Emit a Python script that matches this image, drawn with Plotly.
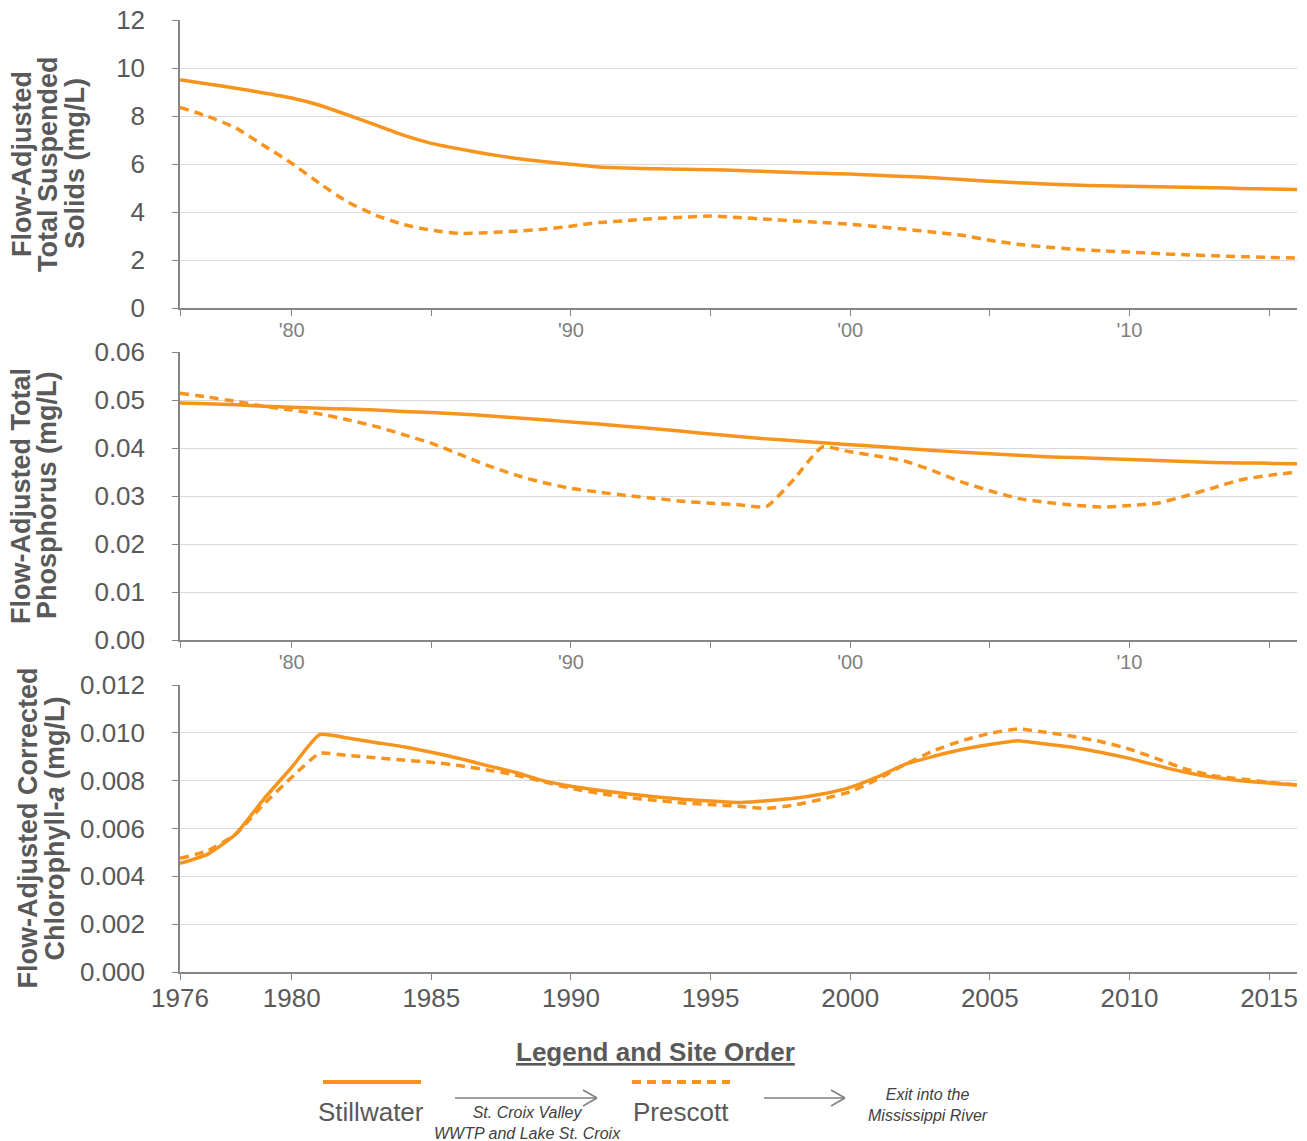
import plotly.graph_objects as go

# ---------------- data ----------------
years = list(range(1976, 2017))

tss_stillwater = [9.51, 9.33, 9.16, 8.96, 8.75, 8.45, 8.05, 7.63, 7.20, 6.86,
                  6.63, 6.42, 6.24, 6.10, 5.99, 5.87, 5.83, 5.80, 5.78, 5.76,
                  5.73, 5.69, 5.65, 5.61, 5.58, 5.53, 5.48, 5.43, 5.35, 5.28,
                  5.22, 5.17, 5.12, 5.09, 5.07, 5.05, 5.03, 5.01, 4.98, 4.96, 4.94]
tss_prescott = [8.36, 7.98, 7.50, 6.77, 6.03, 5.19, 4.42, 3.87, 3.48, 3.24,
                3.11, 3.14, 3.20, 3.28, 3.41, 3.56, 3.64, 3.73, 3.78, 3.83,
                3.77, 3.70, 3.63, 3.56, 3.49, 3.39, 3.28, 3.16, 3.03, 2.82,
                2.66, 2.54, 2.45, 2.38, 2.33, 2.27, 2.22, 2.18, 2.14, 2.11, 2.08]

tp_stillwater = [0.0494, 0.0492, 0.0490, 0.0487, 0.0485, 0.0483, 0.0481, 0.0479, 0.0476, 0.0474,
                 0.0471, 0.0467, 0.0463, 0.0459, 0.0454, 0.0450, 0.0445, 0.0440, 0.0435, 0.0429,
                 0.0424, 0.0419, 0.0415, 0.0411, 0.0407, 0.0403, 0.0399, 0.0395, 0.0391, 0.0388,
                 0.0385, 0.0382, 0.0380, 0.0378, 0.0376, 0.0374, 0.0372, 0.0370, 0.0369, 0.0368, 0.0367]
tp_prescott = [0.0514, 0.0506, 0.0497, 0.0487, 0.0479, 0.0471, 0.0459, 0.0445, 0.0428, 0.0410,
               0.0387, 0.0364, 0.0344, 0.0328, 0.0316, 0.0308, 0.0301, 0.0295, 0.0289, 0.0285,
               0.0282, 0.0278, 0.0336, 0.0402, 0.0392, 0.0383, 0.0372, 0.0352, 0.0329, 0.0311,
               0.0295, 0.0287, 0.0281, 0.0277, 0.0280, 0.0285, 0.0300, 0.0317, 0.0334, 0.0343, 0.0350]

chl_stillwater = [0.00454, 0.00493, 0.00577, 0.00723, 0.00856, 0.00993, 0.00978, 0.00960, 0.00942, 0.00919,
                  0.00893, 0.00863, 0.00835, 0.00800, 0.00777, 0.00760, 0.00745, 0.00733, 0.00722, 0.00715,
                  0.00709, 0.00716, 0.00726, 0.00744, 0.00772, 0.00817, 0.00870, 0.00902, 0.00930, 0.00951,
                  0.00967, 0.00953, 0.00939, 0.00918, 0.00893, 0.00863, 0.00835, 0.00814, 0.00800, 0.00790, 0.00782]
chl_prescott = [0.00475, 0.00507, 0.00577, 0.00702, 0.00814, 0.00914, 0.00905, 0.00896, 0.00886, 0.00877,
                0.00863, 0.00845, 0.00824, 0.00796, 0.00768, 0.00747, 0.00730, 0.00718, 0.00707, 0.00700,
                0.00693, 0.00684, 0.00698, 0.00723, 0.00754, 0.00807, 0.00870, 0.00926, 0.00967, 0.00998,
                0.01016, 0.01002, 0.00985, 0.00963, 0.00932, 0.00891, 0.00849, 0.00821, 0.00807, 0.00793, 0.00782]

top_tickvals = [1976, 1980, 1985, 1990, 1995, 2000, 2005, 2010, 2015]
top_ticktext = ["", "'80", "", "'90", "", "'00", "", "'10", ""]
bottom_tickvals = [1976, 1980, 1985, 1990, 1995, 2000, 2005, 2010, 2015]
bottom_ticktext = ["1976", "1980", "1985", "1990", "1995", "2000", "2005", "2010", "2015"]

panel_titles = [
    ["Flow-Adjusted", "Total Suspended", "Solids (mg/L)"],
    ["Flow-Adjusted Total", "Phosphorus (mg/L)"],
    ["Flow-Adjusted Corrected", "Chlorophyll-<i>a</i> (mg/L)"],
]

# ---------------- styling ----------------
W, H = 1307, 1141
ORANGE = "#F7941D"
AXIS = "#868686"
GRID = "#d9d9d9"
TXT = "#595959"
FONT = "Liberation Sans, Arial, sans-serif"


def fx(x):
    return x / W


def fy(y):
    return 1 - y / H


fig = go.Figure()

series = [
    (tss_stillwater, tss_prescott, "x", "y"),
    (tp_stillwater, tp_prescott, "x2", "y2"),
    (chl_stillwater, chl_prescott, "x3", "y3"),
]
for s_vals, p_vals, xa, ya in series:
    fig.add_trace(go.Scatter(x=years, y=s_vals, mode="lines", xaxis=xa, yaxis=ya,
                             line=dict(color=ORANGE, width=3.5, shape="spline", smoothing=0.5),
                             name="Stillwater", showlegend=False))
    fig.add_trace(go.Scatter(x=years, y=p_vals, mode="lines", xaxis=xa, yaxis=ya,
                             line=dict(color=ORANGE, width=3.5, dash="9px,6px",
                                       shape="spline", smoothing=0.5),
                             name="Prescott", showlegend=False))

xdom = [fx(180), fx(1297)]
panels = [(20, 308), (352, 640), (685, 972)]

common_x = dict(range=[1976, 2016], showgrid=False, zeroline=False, showline=True,
                linecolor=AXIS, linewidth=1.5, ticks="outside", ticklen=6,
                tickcolor=AXIS, tickwidth=1.2, domain=xdom, tickmode="array",
                automargin=False)
common_y = dict(showgrid=True, gridcolor=GRID, gridwidth=1.2, zeroline=False,
                showline=True, linecolor=AXIS, linewidth=1.5, ticks="outside",
                ticklen=6, tickcolor=AXIS, tickwidth=1.2, automargin=False,
                tickfont=dict(family=FONT, size=26, color=TXT), ticklabelstandoff=22)

fig.update_layout(
    width=W, height=H, margin=dict(l=0, r=0, t=0, b=0, autoexpand=False),
    paper_bgcolor="white", plot_bgcolor="white", showlegend=False,
    xaxis=dict(common_x, anchor="y", tickvals=top_tickvals, ticktext=top_ticktext,
               tickfont=dict(family=FONT, size=20, color="#7f7f7f"), ticklabelstandoff=-3),
    xaxis2=dict(common_x, anchor="y2", tickvals=top_tickvals, ticktext=top_ticktext,
                tickfont=dict(family=FONT, size=20, color="#7f7f7f"), ticklabelstandoff=-3),
    xaxis3=dict(common_x, anchor="y3", tickvals=bottom_tickvals, ticktext=bottom_ticktext,
                tickfont=dict(family=FONT, size=26, color=TXT), ticklabelstandoff=-4),
    yaxis=dict(common_y, anchor="x", domain=[fy(panels[0][1]), fy(panels[0][0])],
               range=[0, 12], dtick=2, tickformat="d"),
    yaxis2=dict(common_y, anchor="x2", domain=[fy(panels[1][1]), fy(panels[1][0])],
                range=[0, 0.06], dtick=0.01, tickformat=".2f"),
    yaxis3=dict(common_y, anchor="x3", domain=[fy(panels[2][1]), fy(panels[2][0])],
                range=[0, 0.012], dtick=0.002, tickformat=".3f"),
)

annotations = []
# y-axis titles (one annotation per line to control line spacing)
title_cols = [[22, 48, 75], [21, 47], [27, 54]]
for (top, bot), lines, cols in zip(panels, panel_titles, title_cols):
    for line, cx in zip(lines, cols):
        annotations.append(dict(text="<b>" + line + "</b>", x=fx(cx), y=fy((top + bot) / 2),
                                xref="paper", yref="paper", textangle=-90, showarrow=False,
                                xanchor="center", yanchor="middle",
                                font=dict(family=FONT, size=27, color=TXT)))

# legend block
annotations.append(dict(text="<b><u>Legend and Site Order</u></b>", x=fx(655), y=fy(1052),
                        xref="paper", yref="paper", showarrow=False, xanchor="center",
                        yanchor="middle", font=dict(family=FONT, size=26, color=TXT)))
annotations.append(dict(text="Stillwater", x=fx(371), y=fy(1112), xref="paper", yref="paper",
                        showarrow=False, xanchor="center", yanchor="middle",
                        font=dict(family=FONT, size=26, color=TXT)))
annotations.append(dict(text="Prescott", x=fx(681), y=fy(1112), xref="paper", yref="paper",
                        showarrow=False, xanchor="center", yanchor="middle",
                        font=dict(family=FONT, size=26, color=TXT)))
annotations.append(dict(text="<i>St. Croix Valley</i><br><i>WWTP and Lake St. Croix</i>",
                        x=fx(527), y=fy(1123), xref="paper", yref="paper", showarrow=False,
                        xanchor="center", yanchor="middle",
                        font=dict(family=FONT, size=16, color="#404040")))
annotations.append(dict(text="<i>Exit into the</i><br><i>Mississippi River</i>",
                        x=fx(928), y=fy(1105), xref="paper", yref="paper", showarrow=False,
                        xanchor="center", yanchor="middle",
                        font=dict(family=FONT, size=16, color="#404040")))
fig.update_layout(annotations=annotations)

shapes = [
    dict(type="line", xref="paper", yref="paper", x0=fx(323), x1=fx(421), y0=fy(1082), y1=fy(1082),
         line=dict(color=ORANGE, width=4)),
    dict(type="line", xref="paper", yref="paper", x0=fx(632), x1=fx(730), y0=fy(1082), y1=fy(1082),
         line=dict(color=ORANGE, width=4, dash="9px,6px")),
]
for x0, x1, y in [(455, 597, 1098), (764, 845, 1098)]:
    shapes.append(dict(type="line", xref="paper", yref="paper", x0=fx(x0), x1=fx(x1),
                       y0=fy(y), y1=fy(y), line=dict(color="#808080", width=1.5)))
    shapes.append(dict(type="line", xref="paper", yref="paper", x0=fx(x1 - 14), x1=fx(x1),
                       y0=fy(y - 8), y1=fy(y), line=dict(color="#808080", width=1.5)))
    shapes.append(dict(type="line", xref="paper", yref="paper", x0=fx(x1 - 14), x1=fx(x1),
                       y0=fy(y + 8), y1=fy(y), line=dict(color="#808080", width=1.5)))
fig.update_layout(shapes=shapes)

fig.write_html("out.html", config={"displayModeBar": False},
               post_script="document.body.style.margin='0';")
